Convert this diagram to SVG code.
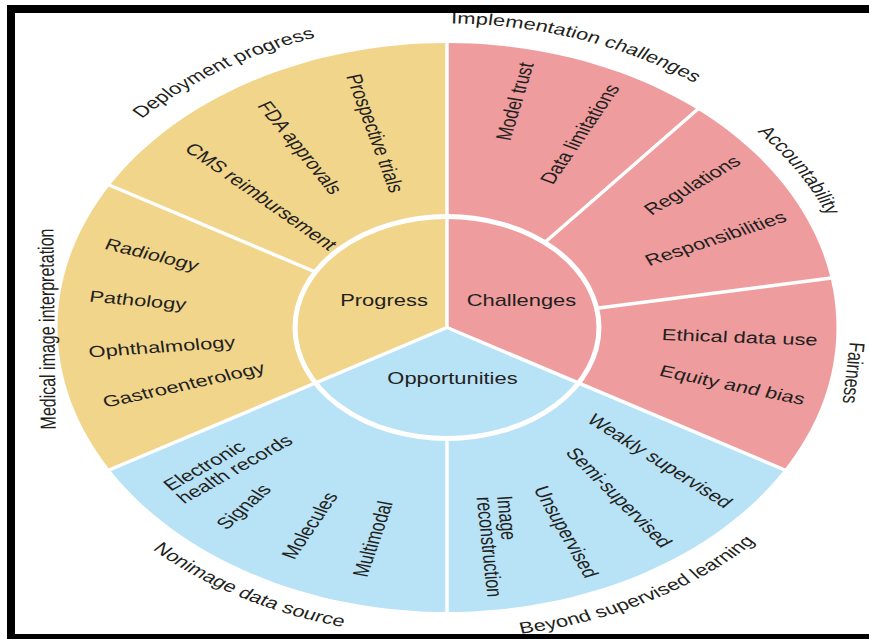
<svg xmlns="http://www.w3.org/2000/svg" width="869" height="639" viewBox="0 0 869 639">
<defs>
<style>
text{font-family:"Liberation Sans",Arial,sans-serif;font-size:16px;fill:#231F20;}
.l{text-anchor:start;}
.r{text-anchor:end;}
.m{text-anchor:middle;}
.div{stroke:#fff;stroke-width:3.5;vector-effect:non-scaling-stroke;fill:none;}
.ring{stroke:#fff;stroke-width:5;vector-effect:non-scaling-stroke;fill:none;}
.y{fill:#F1D58B;}
.p{fill:#EE9C9D;}
.b{fill:#B8E2F6;}
</style>
<path id="arcDeploy" d="M-291.5,-91.35 A305.5,305.5 0 0 1 39.35,-302.96"/>
<path id="arcImpl" d="M-111.4,-282.8 A304,304 0 0 1 259.2,-158.8"/>
<path id="arcAcc" d="M95.5,-283.9 A299.5,299.5 0 0 1 296.1,44.8"/>
<path id="arcNon" d="M-288.9,109.7 A309,309 0 0 0 57.9,303.5"/>
<path id="arcBey" d="M-63.6,304.4 A311,311 0 0 0 288.8,115.5"/>
</defs>
<rect x="0" y="0" width="869" height="639" fill="#fff"/>
<g transform="translate(447 327.5) scale(1.369 1)">
  <g id="sectors">
    <path id="progress-sector" class="y" d="M0,0 L0,-284.5 A284.5,284.5 0 0 0 -246.38,142.25 Z"/>
    <path id="challenges-sector" class="p" d="M0,0 L0,-284.5 A284.5,284.5 0 0 1 246.38,142.25 Z"/>
    <path id="opportunities-sector" class="b" d="M0,0 L246.38,142.25 A284.5,284.5 0 0 1 -246.38,142.25 Z"/>
  </g>
  <g id="connectors">
    <line class="div" x1="0" y1="0" x2="0" y2="-287"/>
    <line class="div" x1="0" y1="0" x2="-248.1" y2="143.25"/>
    <line class="div" x1="0" y1="0" x2="248.1" y2="143.25"/>
    <line class="div" x1="-96.13" y1="-55.5" x2="-248.1" y2="-143.25"/>
    <line class="div" x1="71.35" y1="-85.03" x2="184.16" y2="-219.47"/>
    <line class="div" x1="109.31" y1="-19.28" x2="282.15" y2="-49.75"/>
    <line class="div" x1="0" y1="111" x2="0" y2="287"/>
    <circle class="ring" cx="0" cy="0" r="111"/>
  </g>
  <g id="progress">
    <text class="m" x="-46" y="-21.5">Progress</text>
  </g>
  <g id="challenges">
    <text class="m" x="54.4" y="-21.5">Challenges</text>
  </g>
  <g id="opportunities">
    <text class="m" x="4" y="56.5">Opportunities</text>
  </g>
  <g id="deployment-progress">
    <text><textPath href="#arcDeploy" startOffset="50%" text-anchor="middle">Deployment progress</textPath></text>
    <text class="l" transform="rotate(74.7)" x="-262" y="0" dy="0.3em">Prospective trials</text>
    <text class="l" transform="rotate(59)" x="-262" y="0" dy="0.3em">FDA approvals</text>
    <text class="l" transform="rotate(43.8)" x="-262" y="0" dy="0.3em">CMS reimbursement</text>
  </g>
  <g id="medical-image-interpretation">
    <text class="m" transform="rotate(-90.5 -286.7 1.5)" x="-286.7" y="1.5">Medical image interpretation</text>
    <text class="l" transform="rotate(18.5)" x="-263" y="0" dy="0.3em">Radiology</text>
    <text class="l" transform="rotate(6.7)" x="-263" y="0" dy="0.3em">Pathology</text>
    <text class="l" transform="rotate(-5.5)" x="-263" y="0" dy="0.3em">Ophthalmology</text>
    <text class="l" transform="rotate(-16.8)" x="-262" y="0" dy="0.3em">Gastroenterology</text>
  </g>
  <g id="nonimage-data-source">
    <text><textPath href="#arcNon" startOffset="50%" text-anchor="middle">Nonimage data source</textPath></text>
    <g transform="rotate(-37.5)">
      <text class="l" x="-260" y="2.5" dy="0.3em">Electronic</text>
      <text class="l" x="-260" y="18.5" dy="0.3em">health records</text>
    </g>
    <text class="l" transform="rotate(-50.5)" x="-259" y="0" dy="0.3em">Signals</text>
    <text class="l" transform="rotate(-63.3)" x="-258" y="0" dy="0.3em">Molecules</text>
    <text class="l" transform="rotate(-75.8)" x="-257" y="0" dy="0.3em">Multimodal</text>
  </g>
  <g id="beyond-supervised-learning">
    <text><textPath href="#arcBey" startOffset="50%" text-anchor="middle">Beyond supervised learning</textPath></text>
    <g transform="rotate(85.5)">
      <text class="l" x="171" y="-28" dy="0.3em">Image</text>
      <text class="l" x="171" y="-13" dy="0.3em">reconstruction</text>
    </g>
    <text class="r" transform="rotate(67.1)" x="271" y="0" dy="0.3em">Unsupervised</text>
    <text class="r" transform="rotate(53.7)" x="271" y="0" dy="0.3em">Semi-supervised</text>
    <text class="r" transform="rotate(40.8)" x="272" y="0" dy="0.3em">Weakly supervised</text>
  </g>
  <g id="implementation-challenges">
    <text><textPath href="#arcImpl" startOffset="50%" text-anchor="middle">Implementation challenges</textPath></text>
    <text class="r" transform="rotate(-77.5)" x="271" y="0" dy="0.3em">Model trust</text>
    <text class="r" transform="rotate(-63.2)" x="271" y="0" dy="0.3em">Data limitations</text>
  </g>
  <g id="accountability">
    <text><textPath href="#arcAcc" startOffset="50%" text-anchor="middle">Accountability</textPath></text>
    <text class="r" transform="rotate(-38.3)" x="271" y="0" dy="0.3em">Regulations</text>
    <text class="r" transform="rotate(-24.2)" x="271" y="0" dy="0.3em">Responsibilities</text>
  </g>
  <g id="fairness">
    <text class="m" transform="rotate(95 291.6 45)" x="291.6" y="45">Fairness</text>
    <text class="r" transform="rotate(2.8)" x="271" y="0" dy="0.3em">Ethical data use</text>
    <text class="r" transform="rotate(15.6)" x="271" y="0" dy="0.3em">Equity and bias</text>
  </g>
</g>
<g id="frame" fill="#000">
  <rect x="7" y="5" width="862" height="8"/>
  <rect x="7" y="5" width="8" height="634"/>
  <rect x="7" y="634" width="862" height="5"/>
</g>
</svg>
